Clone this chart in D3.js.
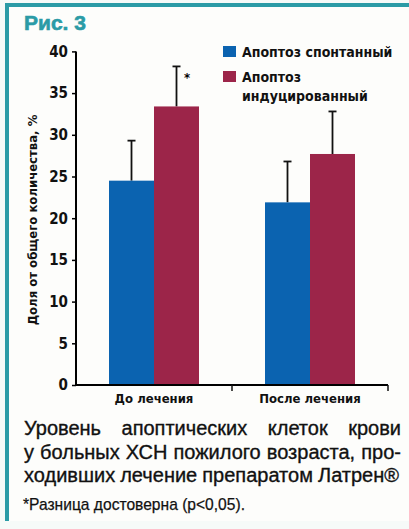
<!DOCTYPE html>
<html>
<head>
<meta charset="utf-8">
<script src="https://cdn.jsdelivr.net/npm/d3@7"></script>
<style>
  body { margin: 0; background: #fff; }
  .narrow { font-family: "Liberation Sans Narrow", "DejaVu Sans Condensed", sans-serif; font-weight: bold; }
</style>
</head>
<body>
<div id="chart"></div>
<script>
// chart data
let categories = ["До лечения", "После лечения"];
let seriesNames = ["Апоптоз спонтанный", "Апоптоз индуцированный"];
let spontaneous = [24.5, 21.9];
let induced = [33.4, 27.7];
let spontaneousErr = [4.8, 4.9];
let inducedErr = [4.8, 5.1];
let yTicks = [0, 5, 10, 15, 20, 25, 30, 35, 40];
let captionLines = [
    "Уровень апоптических клеток крови",
    "у больных ХСН пожилого возраста, про-",
    "ходивших лечение препаратом Латрен®"
];

let colors = ["#0b63b0", "#9c2549"];
let teal = "#2b9ba6";

let W = 409, H = 529;
let svg = d3.select("#chart").append("svg")
    .attr("width", W)
    .attr("height", H);

// background + frame
svg.append("rect").attr("width", W).attr("height", H).attr("fill", "#f6faf8");
svg.append("rect").attr("x", 8).attr("y", 6).attr("width", W - 8).attr("height", 515).attr("fill", "#fdfdfb");
svg.append("rect").attr("x", 5).attr("y", 3).attr("width", W - 5).attr("height", 4).attr("fill", teal);
svg.append("rect").attr("x", 5).attr("y", 3).attr("width", 4).attr("height", 518).attr("fill", teal);

svg.append("text")
    .attr("x", 24).attr("y", 30)
    .attr("fill", teal)
    .attr("font-family", "'Liberation Sans', Arial, sans-serif")
    .attr("font-weight", "bold")
    .attr("font-size", 21)
    .attr("stroke", teal).attr("stroke-width", 0.6)
    .attr("textLength", 62).attr("lengthAdjust", "spacingAndGlyphs")
    .text("Рис. 3");

let margin = { top: 51.4, left: 76, right: 21, bottom: 144 };
let plotW = W - margin.left - margin.right;
let plotH = 385 - margin.top;

let g = svg.append("g")
    .attr("transform", "translate(" + margin.left + "," + margin.top + ")");

let y = d3.scaleLinear().domain([0, 40]).range([plotH, 0]);
let x = d3.scaleBand().domain(categories).range([0, plotW]);
let xs = d3.scaleBand().domain([0, 1]).range([0, 90]);

let groups = categories.map((c, i) => ({
    cat: c,
    vals: [
        { s: 0, v: spontaneous[i], e: spontaneousErr[i] },
        { s: 1, v: induced[i], e: inducedErr[i] }
    ]
}));

// bars
groups.forEach(function (grp) {
    let gx = x(grp.cat) + x.bandwidth() / 2 - 45;
    grp.vals.forEach(function (d) {
        let bx = gx + xs(d.s);
        let cx = bx + xs.bandwidth() / 2;
        // error bar (upper only)
        g.append("line")
            .attr("x1", cx).attr("x2", cx)
            .attr("y1", y(d.v)).attr("y2", y(d.v + d.e))
            .attr("stroke", "#111").attr("stroke-width", 1.8);
        g.append("line")
            .attr("x1", cx - 4).attr("x2", cx + 4)
            .attr("y1", y(d.v + d.e)).attr("y2", y(d.v + d.e))
            .attr("stroke", "#111").attr("stroke-width", 1.8);
        g.append("rect")
            .attr("x", bx)
            .attr("y", y(d.v))
            .attr("width", xs.bandwidth())
            .attr("height", plotH - y(d.v))
            .attr("fill", colors[d.s]);
    });
});

// asterisk
g.append("text")
    .attr("class", "narrow")
    .attr("x", x(categories[0]) + x.bandwidth() / 2 + 33)
    .attr("y", y(38.2) + 16)
    .attr("font-size", 13)
    .attr("text-anchor", "middle")
    .text("*");

// y axis
let yAxis = g.append("g")
    .call(d3.axisLeft(y).tickValues(yTicks).tickSize(4).tickPadding(4));
yAxis.select(".domain").attr("stroke-width", 2).attr("d", "M0," + (plotH + 1) + "V0");
yAxis.selectAll(".tick line").attr("stroke-width", 1.5);
yAxis.selectAll("text")
    .attr("class", "narrow")
    .attr("font-size", 15)
    .attr("fill", "#111");

// x axis
let xAxis = g.append("g")
    .attr("transform", "translate(0," + plotH + ")")
    .call(d3.axisBottom(x).tickSize(0).tickPadding(9));
xAxis.select(".domain").attr("stroke-width", 1.8).attr("d", "M0,0H" + plotW);
xAxis.selectAll("text")
    .attr("class", "narrow")
    .attr("font-size", 13)
    .attr("fill", "#111");
// separators between categories
[x.bandwidth(), plotW].forEach(function (px) {
    g.append("line")
        .attr("x1", px).attr("x2", px)
        .attr("y1", plotH).attr("y2", plotH + 6)
        .attr("stroke", "#111").attr("stroke-width", 1.5);
});

// y label
svg.append("text")
    .attr("class", "narrow")
    .attr("transform", "translate(37,220) rotate(-90)")
    .attr("text-anchor", "middle")
    .attr("font-size", 13)
    .attr("fill", "#111")
    .text("Доля от общего количества, %");

// legend
let legend = svg.append("g").attr("transform", "translate(223,46)");
legend.append("rect").attr("x", 0).attr("y", 0).attr("width", 13).attr("height", 11).attr("fill", colors[0]);
legend.append("text").attr("class", "narrow").attr("x", 19).attr("y", 10.5)
    .attr("font-size", 14).attr("fill", "#111").text(seriesNames[0]);
legend.append("rect").attr("x", 0).attr("y", 25).attr("width", 13).attr("height", 11).attr("fill", colors[1]);
let lt = legend.append("text").attr("class", "narrow")
    .attr("font-size", 14).attr("fill", "#111");
lt.append("tspan").attr("x", 19).attr("y", 35.5).text("Апоптоз");
lt.append("tspan").attr("x", 19).attr("y", 55).text("индуцированный");

// caption, justified word by word
let capLeft = 24, capRight = 401;
captionLines.forEach(function (line, i) {
    let words = line.split(" ");
    let yy = 435 + i * 23.5;
    let nodes = words.map(w => svg.append("text")
        .attr("y", yy)
        .attr("font-family", "'Liberation Sans', Arial, sans-serif")
        .attr("font-size", 20)
        .attr("fill", "#111")
        .attr("stroke", "#111").attr("stroke-width", 0.35)
        .text(w));
    let widths = nodes.map(n => n.node().getComputedTextLength());
    let total = d3.sum(widths);
    let right = i === captionLines.length - 1 ? capRight - 2 : capRight;
    let gap = (right - capLeft - total) / (words.length - 1);
    let cx = capLeft;
    nodes.forEach(function (n, k) {
        n.attr("x", cx);
        cx += widths[k] + gap;
    });
});

// footnote
svg.append("text")
    .attr("x", 23).attr("y", 510)
    .attr("font-family", "'Liberation Sans', Arial, sans-serif")
    .attr("font-size", 17)
    .attr("fill", "#111")
    .attr("stroke", "#111").attr("stroke-width", 0.25)
    .attr("textLength", 222).attr("lengthAdjust", "spacingAndGlyphs")
    .text("*Разница достоверна (p<0,05).");
</script>
</body>
</html>
